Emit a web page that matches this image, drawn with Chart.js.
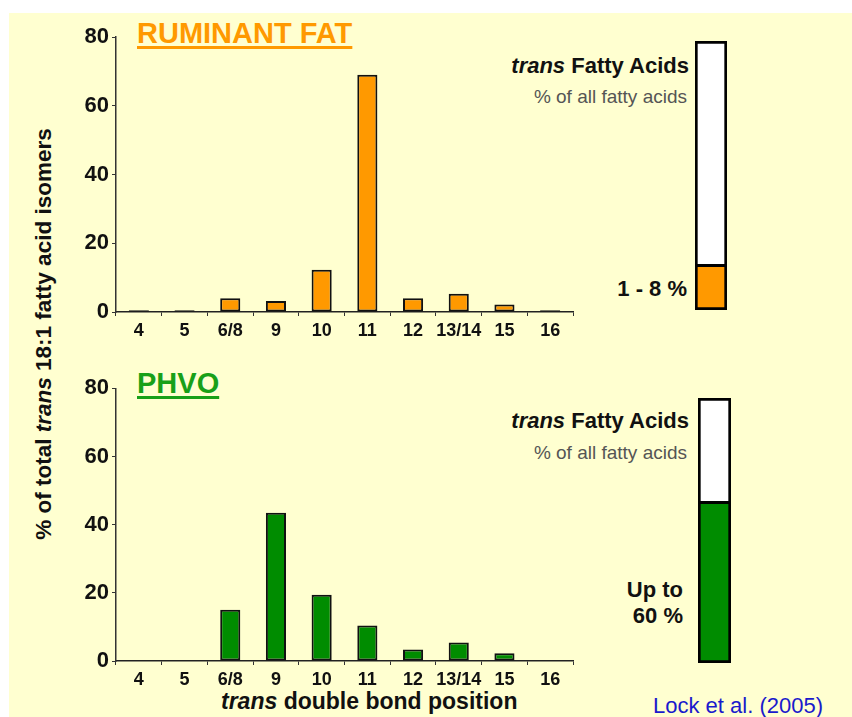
<!DOCTYPE html>
<html>
<head>
<meta charset="utf-8">
<script src="https://cdn.jsdelivr.net/npm/chart.js@4"></script>
<style>
  body { margin: 0; width: 852px; height: 717px; background: #fff; position: relative; overflow: hidden;
         font-family: 'Liberation Sans', Arial, sans-serif; }
  #bg { position: absolute; left: 9px; top: 13px; width: 843px; height: 704px; background: #FFFFD0; }
  canvas { position: absolute; }
  .txt { position: absolute; white-space: nowrap; line-height: 1; }
  .b { font-weight: bold; color: #111; }
  .title { font-weight: bold; font-size: 29px; text-decoration: underline; text-decoration-thickness: 3px; text-underline-offset: 3px; }
</style>
</head>
<body>
<div id="bg"></div>

<div class="txt title" style="left:137px; top:19px; color:#FF9900;">RUMINANT FAT</div>
<div class="txt title" style="left:137px; top:369px; color:#18A018;">PHVO</div>

<div class="txt b" style="left:-181px; top:323px; width:450px; height:22px; font-size:22.5px; text-align:center; transform:rotate(-90deg);">% of total <i>trans</i> 18:1 fatty acid isomers</div>
<div class="txt b" style="left:221px; top:690px; font-size:23px;"><i>trans</i> double bond position</div>

<div class="txt b" style="right:163px; top:55px; font-size:22px; text-align:right;"><i>trans</i> Fatty Acids</div>
<div class="txt" style="right:165px; top:87px; font-size:19px; color:#555; text-align:right;">% of all fatty acids</div>
<div class="txt b" style="right:165px; top:278px; font-size:22px; text-align:right;">1 - 8 %</div>

<div class="txt b" style="right:163px; top:410px; font-size:22px; text-align:right;"><i>trans</i> Fatty Acids</div>
<div class="txt" style="right:165px; top:443px; font-size:19px; color:#555; text-align:right;">% of all fatty acids</div>
<div class="txt b" style="right:169px; top:577px; font-size:22px; text-align:right; line-height:26px;">Up to<br>60 %</div>

<div class="txt" style="left:653px; top:695px; font-size:22px; color:#1A1ACC;">Lock et al. (2005)</div>

<canvas id="ruminant" width="530" height="330" style="left:50px; top:20px;"></canvas>
<canvas id="phvo" width="530" height="347" style="left:50px; top:370px;"></canvas>
<canvas id="ruminantTotal" width="32" height="269" style="left:695px; top:41px;"></canvas>
<canvas id="phvoTotal" width="33" height="265" style="left:698px; top:398px;"></canvas>

<script>
const positions = ['4', '5', '6/8', '9', '10', '11', '12', '13/14', '15', '16'];
const ruminantFat = [0.5, 0.5, 4, 3.2, 12.3, 69, 4, 5.3, 2.2, 0.5];
const phvo = [0, 0, 15, 43.5, 19.4, 10.4, 3.4, 5.4, 2.3, 0];
const yTicks = [0, 20, 40, 60, 80];
// share of trans fatty acids in all fatty acids, as drawn in the side bars
const ruminantShare = [17];
const phvoShare = [61];

const ORANGE = '#FF9900';
const GREEN = '#008C00';
const FONT = "'Liberation Sans', Arial, sans-serif";

function barChart(id, values, color, padTop, xHeight) {
    return new Chart(document.getElementById(id), {
        type: 'bar',
        data: {
            labels: positions,
            datasets: [{
                data: values,
                backgroundColor: color,
                borderColor: '#111',
                borderWidth: 2,
                borderSkipped: false,
                barPercentage: 0.44,
                categoryPercentage: 1
            }]
        },
        options: {
            responsive: false,
            animation: false,
            layout: { padding: { top: padTop, right: 7, left: 0, bottom: 0 } },
            plugins: { legend: { display: false }, tooltip: { enabled: false } },
            scales: {
                x: {
                    grid: { display: true, drawOnChartArea: false, drawTicks: true, tickLength: 4, color: '#333' },
                    border: { color: '#222', width: 1.5 },
                    ticks: { color: '#111', padding: 4, maxRotation: 0, minRotation: 0, autoSkip: false,
                             font: { family: FONT, size: 18, weight: 'bold' } },
                    afterFit: s => { s.height = xHeight; }
                },
                y: {
                    min: 0,
                    max: 80,
                    afterBuildTicks: s => { s.ticks = yTicks.map(v => ({ value: v })); },
                    grid: { display: true, drawOnChartArea: false, drawTicks: true, tickLength: 4, color: '#333' },
                    border: { color: '#333', width: 1.5 },
                    ticks: { color: '#111', padding: 3, font: { family: FONT, size: 22, weight: 'bold' } },
                    afterFit: s => { s.width = 66; }
                }
            }
        }
    });
}

function shareChart(id, share, color) {
    return new Chart(document.getElementById(id), {
        type: 'bar',
        data: {
            labels: [''],
            datasets: [
                { data: share, backgroundColor: color, borderColor: '#000', borderWidth: 3, borderSkipped: false,
                  barPercentage: 1, categoryPercentage: 1 },
                { data: share.map(v => 100 - v), backgroundColor: '#fff', borderColor: '#000', borderWidth: 3,
                  borderSkipped: 'bottom', barPercentage: 1, categoryPercentage: 1 }
            ]
        },
        options: {
            responsive: false,
            animation: false,
            plugins: { legend: { display: false }, tooltip: { enabled: false } },
            scales: {
                x: { display: false, stacked: true },
                y: { display: false, stacked: true, min: 0, max: 100 }
            }
        }
    });
}

barChart('ruminant', ruminantFat, ORANGE, 17, 38);
barChart('phvo', phvo, GREEN, 18.3, 56);
shareChart('ruminantTotal', ruminantShare, ORANGE);
shareChart('phvoTotal', phvoShare, GREEN);
</script>
</body>
</html>
